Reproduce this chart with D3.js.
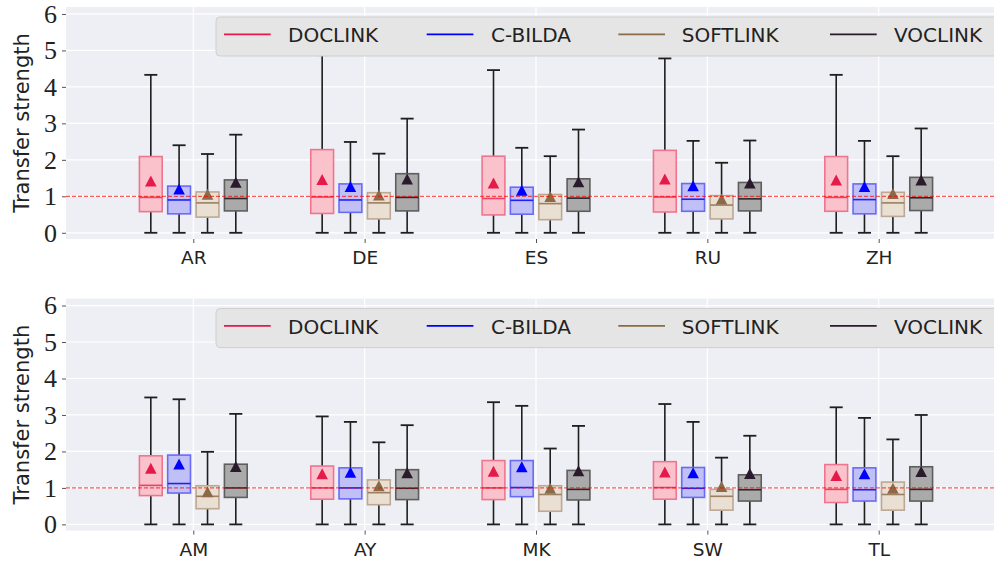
<!DOCTYPE html>
<html>
<head>
<meta charset="utf-8">
<script src="https://cdn.jsdelivr.net/npm/d3@7"></script>
<style>
  body { margin: 0; background: #fff; }
  svg { display: block; }
</style>
</head>
<body>
<div id="chart"></div>
<script>
var series = ["DOCLINK", "C-BILDA", "SOFTLINK", "VOCLINK"];
var colors = ["#e6194b", "#0000ff", "#8b6b47", "#2b1a2b"];
var fills = ["#fac3cc", "#c0c0f6", "#eadfd3", "#aaaaaa"];
var edges = ["#ee7590", "#6a6af8", "#bda893", "#5e5e5e"];
var medians = ["#e8416a", "#2020f8", "#9c7f60", "#2a2a2a"];
var yTicks = [0, 1, 2, 3, 4, 5, 6];

var topCats = ["AR", "DE", "ES", "RU", "ZH"];
// one row per category, one value per series
var topLow  = [[0,0,0,0],[0,0,0,0],[0,0,0,0],[0,0,0,0],[0,0,0,0]];
var topQ1   = [[0.58,0.52,0.43,0.60],[0.53,0.56,0.38,0.60],[0.49,0.51,0.36,0.59],[0.57,0.59,0.38,0.60],[0.59,0.52,0.45,0.61]];
var topMed  = [[0.97,0.90,0.82,0.94],[0.98,0.90,0.82,0.97],[0.94,0.89,0.80,0.95],[0.98,0.92,0.76,0.93],[0.97,0.91,0.82,0.96]];
var topQ3   = [[2.09,1.28,1.12,1.45],[2.28,1.34,1.10,1.62],[2.10,1.25,1.05,1.48],[2.26,1.35,1.02,1.38],[2.09,1.34,1.11,1.52]];
var topHigh = [[4.33,2.40,2.16,2.69],[4.87,2.49,2.17,3.13],[4.46,2.33,2.10,2.83],[4.78,2.52,1.92,2.53],[4.33,2.52,2.10,2.86]];
var topMean = [[1.41,1.19,1.05,1.38],[1.45,1.26,1.03,1.47],[1.36,1.16,0.99,1.39],[1.47,1.28,0.92,1.36],[1.44,1.26,1.07,1.44]];

var botCats = ["AM", "AY", "MK", "SW", "TL"];
var botLow  = [[0,0,0,0],[0,0,0,0],[0,0,0,0],[0,0,0,0],[0,0,0,0]];
var botQ1   = [[0.79,0.86,0.43,0.74],[0.69,0.70,0.54,0.68],[0.68,0.76,0.36,0.67],[0.69,0.74,0.39,0.64],[0.60,0.64,0.39,0.64]];
var botMed  = [[1.07,1.12,0.77,1.00],[1.00,1.00,0.87,0.99],[1.00,1.01,0.82,0.96],[1.01,0.99,0.77,0.95],[0.96,0.95,0.82,0.96]];
var botQ3   = [[1.88,1.90,1.06,1.65],[1.60,1.55,1.22,1.50],[1.75,1.75,1.06,1.48],[1.72,1.56,0.96,1.36],[1.64,1.55,1.16,1.58]];
var botHigh = [[3.48,3.43,1.99,3.03],[2.96,2.81,2.25,2.72],[3.35,3.25,2.08,2.70],[3.30,2.81,1.83,2.43],[3.21,2.92,2.33,3.00]];
var botMean = [[1.53,1.65,0.89,1.58],[1.38,1.42,1.05,1.41],[1.45,1.57,0.98,1.46],[1.43,1.41,1.03,1.39],[1.33,1.38,0.98,1.44]];

var W = 994, H = 563;
var svg = d3.select("#chart").append("svg").attr("width", W).attr("height", H);

var offsets = [-0.248, -0.083, 0.083, 0.248];
var boxW = 0.133, capW = 0.076;

function panel(top, cats, low, q1, med, q3, high, mean) {
  var p = {};
  p.left = 66; p.right = 1006; p.top = top; p.bottom = top + 232;
  p.x = d3.scaleLinear().domain([-0.743, 4.743]).range([p.left, p.right]);
  p.y = d3.scaleLinear().domain([-0.17, 6.19]).range([p.bottom, p.top]);

  var g = svg.append("g");
  g.append("rect")
    .attr("x", p.left).attr("y", p.top)
    .attr("width", p.right - p.left).attr("height", p.bottom - p.top)
    .attr("fill", "#eeeff4");

  // grid
  g.selectAll(".hg").data(yTicks).enter().append("line")
    .attr("x1", p.left).attr("x2", p.right)
    .attr("y1", function(d) { return p.y(d); }).attr("y2", function(d) { return p.y(d); })
    .attr("stroke", "#fff").attr("stroke-width", 1.2);
  g.selectAll(".vg").data(cats).enter().append("line")
    .attr("x1", function(d, i) { return p.x(i); }).attr("x2", function(d, i) { return p.x(i); })
    .attr("y1", p.top).attr("y2", p.bottom)
    .attr("stroke", "#fff").attr("stroke-width", 1.2);

  // y axis
  var ya = g.append("g").attr("transform", "translate(" + p.left + ",0)")
    .call(d3.axisLeft(p.y).tickValues(yTicks).tickSize(4).tickPadding(5).tickFormat(d3.format("d")));
  ya.select(".domain").remove();
  ya.selectAll(".tick line").attr("stroke", "#555");
  ya.selectAll("text").attr("font-family", "Liberation Serif, serif").attr("font-size", 26).attr("fill", "#222");

  // x axis
  var xa = g.append("g").attr("transform", "translate(0," + p.bottom + ")")
    .call(d3.axisBottom(p.x).tickValues(d3.range(cats.length)).tickSize(4).tickPadding(8)
      .tickFormat(function(d) { return cats[d]; }));
  xa.select(".domain").remove();
  xa.selectAll(".tick line").attr("stroke", "#555");
  xa.selectAll("text").attr("font-family", "DejaVu Sans, sans-serif").attr("font-size", 18.5).attr("fill", "#222");

  var items = [];
  cats.forEach(function(c, ci) {
    series.forEach(function(s, si) {
      items.push({ c: ci, s: si, low: low[ci][si], q1: q1[ci][si], med: med[ci][si],
        q3: q3[ci][si], high: high[ci][si], mean: mean[ci][si] });
    });
  });

  var b = g.selectAll(".box").data(items).enter().append("g");
  function cx(d) { return p.x(d.c + offsets[d.s]); }

  // whiskers
  b.append("line")
    .attr("x1", cx).attr("x2", cx)
    .attr("y1", function(d) { return p.y(d.q3); }).attr("y2", function(d) { return p.y(d.high); })
    .attr("stroke", "#1e1e1e").attr("stroke-width", 1.6);
  b.append("line")
    .attr("x1", cx).attr("x2", cx)
    .attr("y1", function(d) { return p.y(d.q1); }).attr("y2", function(d) { return p.y(d.low); })
    .attr("stroke", "#1e1e1e").attr("stroke-width", 1.6);
  ["high", "low"].forEach(function(k) {
    b.append("line")
      .attr("x1", function(d) { return p.x(d.c + offsets[d.s] - capW / 2); })
      .attr("x2", function(d) { return p.x(d.c + offsets[d.s] + capW / 2); })
      .attr("y1", function(d) { return p.y(d[k]); }).attr("y2", function(d) { return p.y(d[k]); })
      .attr("stroke", "#1e1e1e").attr("stroke-width", 1.8);
  });

  // boxes
  b.append("rect")
    .attr("x", function(d) { return p.x(d.c + offsets[d.s] - boxW / 2); })
    .attr("width", p.x(boxW) - p.x(0))
    .attr("y", function(d) { return p.y(d.q3); })
    .attr("height", function(d) { return p.y(d.q1) - p.y(d.q3); })
    .attr("fill", function(d) { return fills[d.s]; })
    .attr("stroke", function(d) { return edges[d.s]; })
    .attr("stroke-width", 1.6);

  // reference line
  g.append("line")
    .attr("x1", p.left).attr("x2", p.right)
    .attr("y1", p.y(1)).attr("y2", p.y(1))
    .attr("stroke", "#ff0000").attr("stroke-opacity", 0.8).attr("stroke-width", 1).attr("stroke-dasharray", "4,2");

  // medians
  b.append("line")
    .attr("x1", function(d) { return p.x(d.c + offsets[d.s] - boxW / 2); })
    .attr("x2", function(d) { return p.x(d.c + offsets[d.s] + boxW / 2); })
    .attr("y1", function(d) { return p.y(d.med); }).attr("y2", function(d) { return p.y(d.med); })
    .attr("stroke", function(d) { return medians[d.s]; })
    .attr("stroke-width", 1.6);

  // means
  b.append("path")
    .attr("transform", function(d) { return "translate(" + cx(d) + "," + p.y(d.mean) + ")"; })
    .attr("d", "M0,-5.8L5.8,5.2L-5.8,5.2Z")
    .attr("fill", function(d) { return colors[d.s]; });

  // legend
  var lg = g.append("g").attr("transform", "translate(216," + (p.top + 10) + ")");
  lg.append("rect")
    .attr("x", 0).attr("y", 0).attr("width", 790).attr("height", 39).attr("rx", 4)
    .attr("fill", "#e5e5e5").attr("stroke", "#cfcfcf").attr("stroke-width", 1);
  var lineX = [8, 210.7, 402.3, 614];
  var textX = [72, 275, 465.7, 678];
  series.forEach(function(s, i) {
    lg.append("line")
      .attr("x1", lineX[i]).attr("x2", lineX[i] + 46.7)
      .attr("y1", 17.3).attr("y2", 17.3)
      .attr("stroke", colors[i]).attr("stroke-width", 1.8);
    lg.append("text")
      .attr("x", textX[i]).attr("y", 25)
      .attr("font-family", "DejaVu Sans, sans-serif").attr("font-size", 20)
      .attr("fill", "#222").text(s);
  });

  // y label
  svg.append("text")
    .attr("transform", "translate(29," + ((p.top + p.bottom) / 2) + ") rotate(-90)")
    .attr("text-anchor", "middle")
    .attr("font-family", "DejaVu Sans, sans-serif").attr("font-size", 21)
    .attr("fill", "#222").text("Transfer strength");
  return p;
}

panel(7, topCats, topLow, topQ1, topMed, topQ3, topHigh, topMean);
panel(298.6, botCats, botLow, botQ1, botMed, botQ3, botHigh, botMean);
</script>
</body>
</html>
